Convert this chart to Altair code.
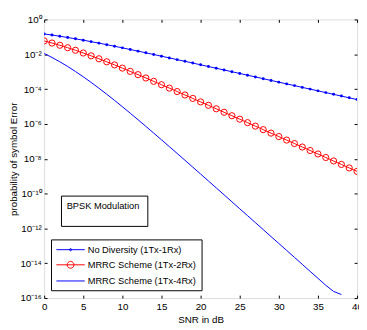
import altair as alt
import pandas as pd

# ---------------- data ----------------
snr_db = list(range(41))
no_div = [0.146, 0.127, 0.108, 0.0919, 0.0771, 0.0642, 0.0530, 0.0435, 0.0355, 0.0288,
          0.0233, 0.0187, 0.0151, 0.0121, 0.00967, 0.00772, 0.00616, 0.00491, 0.00392, 0.00312,
          0.00248, 0.00197, 0.00157, 0.00125, 0.000992, 0.000789, 0.000627, 0.000498, 0.000396,
          0.000314, 0.000250, 0.000199, 0.000158, 0.000125, 9.95e-5, 7.91e-5, 6.28e-5, 4.99e-5,
          3.96e-5, 3.15e-5, 2.50e-5]
mrrc_2rx = [0.0581, 0.0441, 0.0328, 0.0238, 0.0169, 0.0118, 0.00813, 0.00551, 0.00368, 0.00244,
            0.00160, 0.00104, 0.000674, 0.000434, 0.000278, 0.000178, 0.000114, 7.22e-5, 4.59e-5,
            2.91e-5, 1.84e-5, 1.17e-5, 7.39e-6, 4.67e-6, 2.95e-6, 1.87e-6, 1.18e-6, 7.44e-7,
            4.70e-7, 2.96e-7, 1.88e-7, 1.18e-7, 7.47e-8, 4.71e-8, 2.97e-8, 1.88e-8, 1.18e-8,
            7.46e-9, 4.71e-9, 2.97e-9, 1.88e-9]
mrrc_4rx = [0.0111, 0.00656, 0.00370, 0.00199, 0.00102, 0.000507, 0.000243, 0.000112, 5.08e-5,
            2.24e-5, 9.70e-6, 4.13e-6, 1.74e-6, 7.23e-7, 2.98e-7, 1.22e-7, 4.98e-8, 2.02e-8,
            8.15e-9, 3.28e-9, 1.32e-9, 5.29e-10, 2.12e-10, 8.46e-11, 3.38e-11, 1.35e-11, 5.40e-12,
            2.15e-12, 8.60e-13, 3.40e-13, 1.37e-13, 5.44e-14, 2.17e-14, 8.62e-15, 3.43e-15,
            1.37e-15, 5.44e-16, 2.4e-16, 1.6e-16]

series_names = ["No Diversity (1Tx-1Rx)", "MRRC Scheme (1Tx-2Rx)", "MRRC Scheme (1Tx-4Rx)"]
series_colors = ["#0000ff", "#ff0000", "#0000ff"]
x_ticks = [0, 5, 10, 15, 20, 25, 30, 35, 40]
y_ticks = [1e-16, 1e-14, 1e-12, 1e-10, 1e-8, 1e-6, 1e-4, 1e-2, 1]
y_tick_labels = ["10⁻¹⁶", "10⁻¹⁴", "10⁻¹²", "10⁻¹⁰", "10⁻⁸", "10⁻⁶", "10⁻⁴", "10⁻²", "10⁰"]
annotation = ["BPSK Modulation"]

# legend symbols: line with marker (custom SVG paths)
legend_paths = [
    "M-1,0L4.8,0M2.12,0A0.22,0.22,0,1,1,1.68,0A0.22,0.22,0,1,1,2.12,0",
    "M-1,0L4.8,0M2.6,0A0.7,0.7,0,1,1,1.2,0A0.7,0.7,0,1,1,2.6,0",
    "M-1,0L4.8,0",
]

rows = []
for name, vals in zip(series_names, [no_div, mrrc_2rx, mrrc_4rx]):
    for s, v in zip(snr_db, vals):
        rows.append({"snr": s, "pe": v, "series": name})
df = pd.DataFrame(rows)

FONT = "Liberation Sans"
W, H = 320, 285

xscale = alt.Scale(domain=[0, 40], nice=False)
yscale = alt.Scale(type="log", domain=[1e-16, 1], nice=False)

label_arr = "[" + ",".join("'%s'" % t for t in y_tick_labels) + "]"
y_label_expr = label_arr + "[round((log(datum.value)/LN10 + 16)/2)]"

x_main = alt.Axis(orient="bottom", values=x_ticks, ticks=False, tickSize=0, domain=False, grid=False,
                  labelFont=FONT, labelFontSize=10, labelColor="black", labelPadding=4,
                  labelFlush=False, format="d",
                  title="SNR in dB", titleFont=FONT, titleFontSize=10, titleFontWeight="normal",
                  titleColor="black", titlePadding=3)
y_main = alt.Axis(orient="left", values=y_ticks, ticks=False, tickSize=0, domain=False, grid=False,
                  labelFont=FONT, labelFontSize=10, labelColor="black", labelPadding=3,
                  labelExpr=y_label_expr, labelOverlap=False,
                  title="probability of symbol Error", titleFont=FONT, titleFontSize=10,
                  titleFontWeight="normal", titleColor="black", titlePadding=2)


def tick_axis(orient, vals):
    return alt.Axis(orient=orient, values=vals, offset=-3, tickSize=3, ticks=True, tickColor="black",
                    tickWidth=1, domain=False, labels=False, grid=False, title=None)


base = alt.Chart(df)


def sel(name):
    return base.transform_filter(alt.datum.series == name)


line_nodiv = sel(series_names[0]).mark_line(color=series_colors[0], strokeWidth=1, clip=True).encode(
    x=alt.X("snr:Q", scale=xscale, axis=x_main),
    y=alt.Y("pe:Q", scale=yscale, axis=y_main),
)
pts_nodiv = sel(series_names[0]).mark_point(color=series_colors[0], filled=True, size=9, opacity=1,
                                             clip=True).encode(
    x=alt.X("snr:Q", scale=xscale, axis=tick_axis("bottom", x_ticks)),
    y=alt.Y("pe:Q", scale=yscale, axis=tick_axis("left", y_ticks)),
)
line_2rx = sel(series_names[1]).mark_line(color=series_colors[1], strokeWidth=1, clip=True).encode(
    x=alt.X("snr:Q", scale=xscale, axis=tick_axis("top", x_ticks)),
    y=alt.Y("pe:Q", scale=yscale, axis=tick_axis("right", y_ticks)),
)
pts_2rx = sel(series_names[1]).mark_point(color=series_colors[1], filled=False, size=40, strokeWidth=1,
                                           opacity=1, clip=True).encode(
    x=alt.X("snr:Q", scale=xscale, axis=None),
    y=alt.Y("pe:Q", scale=yscale, axis=None),
)
line_4rx = sel(series_names[2]).mark_line(color=series_colors[2], strokeWidth=1, clip=True).encode(
    x=alt.X("snr:Q", scale=xscale, axis=None),
    y=alt.Y("pe:Q", scale=yscale, axis=None),
)

legend_props = dict(orient="none", legendX=7, legendY=225, title=None, padding=5, rowPadding=4.5,
                    symbolSize=100, symbolStrokeWidth=1, labelOffset=21.5, labelFont=FONT,
                    labelFontSize=9.5, labelColor="black", strokeColor="black", fillColor="white")

legend_layer = base.transform_filter("false").mark_point(filled=False, opacity=1).encode(
    x=alt.X("snr:Q", scale=xscale, axis=None),
    y=alt.Y("pe:Q", scale=yscale, axis=None),
    color=alt.Color("series:N", scale=alt.Scale(domain=series_names, range=series_colors),
                    legend=alt.Legend(**legend_props)),
    shape=alt.Shape("series:N", scale=alt.Scale(domain=series_names, range=legend_paths),
                    legend=alt.Legend(**legend_props)),
)

ann_df = pd.DataFrame({"text": annotation})
ann_box = alt.Chart(ann_df).mark_rect(fill="white", stroke="black", strokeWidth=1).encode(
    x=alt.value(17.7), x2=alt.value(106), y=alt.value(180.7), y2=alt.value(211.7)
)
ann_text = alt.Chart(ann_df).mark_text(font=FONT, fontSize=9.5, align="left", baseline="middle",
                                       color="black").encode(
    x=alt.value(23), y=alt.value(190.7), text="text:N"
)

chart = alt.layer(
    line_nodiv, pts_nodiv, line_2rx, pts_2rx, line_4rx, legend_layer, ann_box, ann_text
).resolve_axis(x="independent", y="independent").properties(
    width=W, height=H,
    autosize=alt.AutoSizeParams(type="none"),
    padding={"left": 37, "top": 8, "right": 2, "bottom": 30},
).configure_view(stroke="black", strokeWidth=1).configure(background="white")

chart.save("out.html", embed_options={"renderer": "svg", "actions": False})
